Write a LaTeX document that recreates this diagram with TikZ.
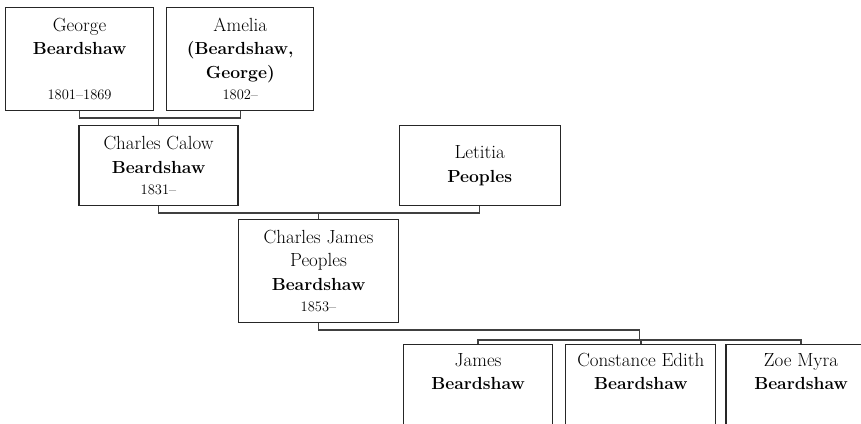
\documentclass[tikz,border=0pt]{standalone}
\usetikzlibrary{positioning,calc}

\newcommand{\lifespan}[1]{{\fontsize{14.5}{16}\selectfont #1}}
\newcommand{\surname}[1]{{\fontsize{17.5}{23.5}\selectfont\bfseries #1}}

\begin{document}
\begin{tikzpicture}[
        x=1pt, y=1pt,
        person/.style={
                rectangle,
                draw=black!85,
                fill=white,
                line width=1.2pt,
                align=center,
                inner sep=0pt,
                text=black,
                font=\fontsize{19}{23.5}\selectfont,
                minimum width=150pt,
                minimum height=80pt
            },
        tall/.style={
                person,
                minimum height=103pt
            },
        link/.style={
                draw=black!75,
                line width=1.5pt
            }
    ]
    \useasboundingbox (0,0) rectangle (861,-423);
    \clip (0,0) rectangle (861,-423);

    \node[tall, minimum width=148pt, anchor=north west] (George) at (5,-7) {George\\\surname{Beardshaw}\\\mbox{}\\[-2pt]\lifespan{1801--1869}};
    \node[tall, minimum width=147pt] (Amelia) [right=12pt of George] {Amelia\\\surname{(Beardshaw,}\\\surname{George)}\\[-2pt]\lifespan{1802--}};
    \node[person, minimum width=159pt, anchor=north] (CharlesCalow) at (158.5,-125) {Charles Calow\\\surname{Beardshaw}\\[-2pt]\lifespan{1831--}};
    \node[person, minimum width=161pt] (Letitia) [right=160pt of CharlesCalow] {Letitia\\\surname{Peoples}};
    \node[tall, minimum width=160pt, anchor=north] (CharlesJames) at (318.5,-219) {Charles James\\Peoples\\\surname{Beardshaw}\\[-2pt]\lifespan{1853--}};
    \node[person, minimum width=149pt, anchor=north west] (James) at (403,-344) {James\\\surname{Beardshaw}\\[-2pt]\lifespan{\strut}};
    \node[person] (Constance) [right=12pt of James] {Constance Edith\\\surname{Beardshaw}\\[-2pt]\lifespan{\strut}};
    \node[person] (Zoe) [right=9pt of Constance] {Zoe Myra\\\surname{Beardshaw}\\[-2pt]\lifespan{\strut}};

    \coordinate (Siblings) at ($(James.north)!0.5!(Zoe.north)+(0,4)$);

    \draw[link] (George.south) -- ++(0,-7) -| (Amelia.south);
    \draw[link] (CharlesCalow.north) -- ++(0,8);
    \draw[link] (CharlesCalow.south) -- ++(0,-7) -| (Letitia.south);
    \draw[link] (CharlesJames.north) -- ++(0,7);
    \draw[link] (CharlesJames.south) -- ++(0,-7) -| (Siblings);
    \draw[link] (James.north) -- ++(0,4) -| (Zoe.north);
    \draw[link] (Constance.north) -- (Constance.north |- Siblings);
\end{tikzpicture}
\end{document}
